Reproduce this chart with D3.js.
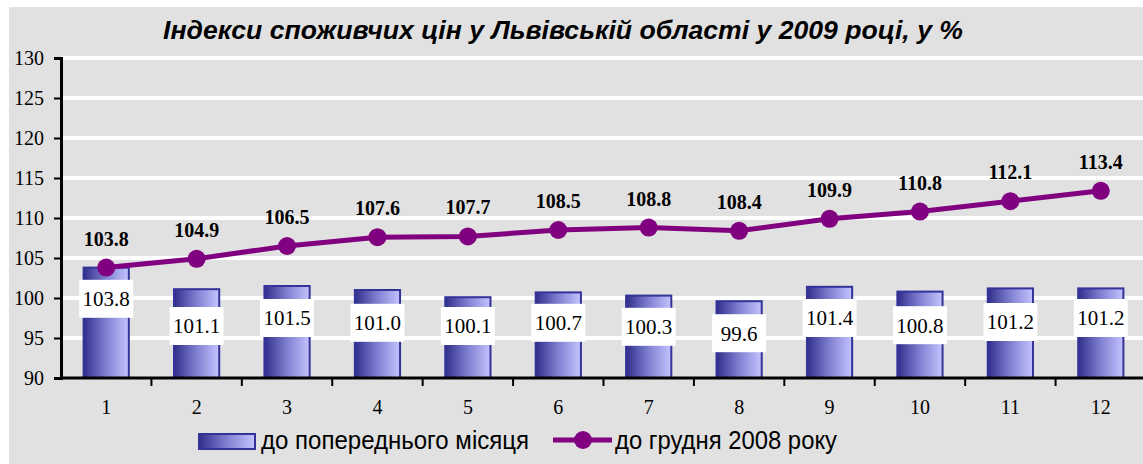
<!DOCTYPE html>
<html lang="uk">
<head>
<meta charset="UTF-8">
<title>Індекси споживчих цін</title>
<script src="https://cdnjs.cloudflare.com/ajax/libs/d3/7.8.5/d3.min.js"></script>
<style>
  body { margin: 0; padding: 0; background: #fff; }
  svg { display: block; }
  .tick text { font-family: "Liberation Serif", "Times New Roman", serif; font-size: 20px; fill: #000; }
</style>
</head>
<body>
<svg id="chart" width="1143" height="464"></svg>
<script>
// chart data
const months = ["1", "2", "3", "4", "5", "6", "7", "8", "9", "10", "11", "12"];
const toPrevMonth = [103.8, 101.1, 101.5, 101.0, 100.1, 100.7, 100.3, 99.6, 101.4, 100.8, 101.2, 101.2];
const toDec2008 = [103.8, 104.9, 106.5, 107.6, 107.7, 108.5, 108.8, 108.4, 109.9, 110.8, 112.1, 113.4];
const yTicks = [90, 95, 100, 105, 110, 115, 120, 125, 130];
const seriesNames = ["до попереднього місяця", "до грудня 2008 року"];
const title = "Індекси споживчих цін у Львівській області у 2009 році, у %";
// where the white value boxes sit on the bars (axis units)
const barLabelAt = [99.9, 96.5, 97.5, 96.9, 96.5, 96.9, 96.4, 95.6, 97.5, 96.6, 97.0, 97.5];

const W = 1143, H = 464;
const mLeft = 61, mRight = 1146, mTop = 58, mBottom = 378;

const svg = d3.select("#chart");

// background
svg.append("rect").attr("x", 9).attr("y", 7).attr("width", W - 9).attr("height", H - 7).attr("fill", "#e1e1e1");

const defs = svg.append("defs");
const grad = defs.append("linearGradient").attr("id", "barGrad").attr("x1", "0%").attr("x2", "100%");
grad.append("stop").attr("offset", "0%").attr("stop-color", "#2f2f8c");
grad.append("stop").attr("offset", "50%").attr("stop-color", "#8080d2");
grad.append("stop").attr("offset", "100%").attr("stop-color", "#c4c4ff");

const x = d3.scaleBand().domain(months).range([mLeft, mRight]).paddingInner(0).paddingOuter(0);
const y = d3.scaleLinear().domain([90, 130]).range([mBottom, mTop]);

// gridlines
svg.append("g").selectAll("line")
  .data(yTicks.filter(d => d > 90))
  .join("line")
  .attr("x1", mLeft).attr("x2", W)
  .attr("y1", d => y(d)).attr("y2", d => y(d))
  .attr("stroke", "#fff").attr("stroke-width", 4);

// bars
const bw = x.bandwidth() * 0.5;
svg.append("g").selectAll("rect")
  .data(toPrevMonth)
  .join("rect")
  .attr("x", (d, i) => x(months[i]) + (x.bandwidth() - bw) / 2)
  .attr("y", d => y(d))
  .attr("width", bw)
  .attr("height", d => y(90) - y(d))
  .attr("fill", "url(#barGrad)")
  .attr("stroke", "#333399").attr("stroke-width", 2);

// axes
const yAxis = svg.append("g").attr("transform", `translate(${mLeft},0)`)
  .call(d3.axisLeft(y).tickValues(yTicks).tickSize(7).tickPadding(10).tickFormat(d3.format("d")));
yAxis.select(".domain").attr("stroke", "#000").attr("stroke-width", 3);
yAxis.selectAll(".tick line").attr("stroke", "#000").attr("stroke-width", 2);
yAxis.selectAll(".tick text").attr("dy", "0.34em");

const xAxis = svg.append("g").attr("transform", `translate(0,${mBottom})`)
  .call(d3.axisBottom(x).tickSize(0).tickPadding(22));
xAxis.select(".domain").remove();
svg.append("line").attr("x1", mLeft - 1).attr("x2", W).attr("y1", mBottom).attr("y2", mBottom)
  .attr("stroke", "#000").attr("stroke-width", 3);
svg.append("g").selectAll("line")
  .data(months)
  .join("line")
  .attr("x1", (d, i) => mLeft + x.step() * (i + 1)).attr("x2", (d, i) => mLeft + x.step() * (i + 1))
  .attr("y1", mBottom).attr("y2", mBottom + 8)
  .attr("stroke", "#000").attr("stroke-width", 2);

// bar value labels
const bl = svg.append("g").selectAll("g")
  .data(toPrevMonth)
  .join("g")
  .attr("transform", (d, i) => `translate(${x(months[i]) + x.bandwidth() / 2},${y(barLabelAt[i])})`);
bl.append("rect").attr("x", -27).attr("y", -19).attr("width", 54).attr("height", 38).attr("fill", "#fff");
bl.append("text")
  .attr("text-anchor", "middle").attr("dy", "0.35em")
  .attr("font-family", "'Liberation Serif', 'Times New Roman', serif").attr("font-size", 21)
  .text(d => d.toFixed(1));

// line series
const cx = (d, i) => x(months[i]) + x.bandwidth() / 2;
svg.append("path")
  .datum(toDec2008)
  .attr("fill", "none").attr("stroke", "#800080").attr("stroke-width", 5)
  .attr("d", d3.line().x(cx).y(d => y(d)));
svg.append("g").selectAll("circle")
  .data(toDec2008)
  .join("circle")
  .attr("cx", cx).attr("cy", d => y(d)).attr("r", 9)
  .attr("fill", "#800080");
svg.append("g").selectAll("text")
  .data(toDec2008)
  .join("text")
  .attr("x", cx).attr("y", d => y(d) - 22)
  .attr("text-anchor", "middle")
  .attr("font-family", "'Liberation Serif', 'Times New Roman', serif").attr("font-size", 20).attr("font-weight", "bold")
  .text(d => d.toFixed(1));

// title
svg.append("text")
  .attr("x", 163).attr("y", 39)
  .attr("font-family", "'Liberation Sans', Arial, sans-serif").attr("font-size", 26)
  .attr("font-weight", "bold").attr("font-style", "italic")
  .attr("textLength", 800).attr("lengthAdjust", "spacingAndGlyphs")
  .text(title);

// legend
const lg = svg.append("g").attr("font-family", "'Liberation Sans', Arial, sans-serif").attr("font-size", 25);
lg.append("rect").attr("x", 199).attr("y", 434).attr("width", 56).attr("height", 15)
  .attr("fill", "url(#barGrad)").attr("stroke", "#333399").attr("stroke-width", 2);
lg.append("text").attr("x", 261).attr("y", 449)
  .attr("textLength", 268).attr("lengthAdjust", "spacingAndGlyphs").text(seriesNames[0]);
lg.append("line").attr("x1", 553).attr("x2", 612).attr("y1", 440).attr("y2", 440)
  .attr("stroke", "#800080").attr("stroke-width", 5);
lg.append("circle").attr("cx", 583).attr("cy", 440).attr("r", 9).attr("fill", "#800080");
lg.append("text").attr("x", 615).attr("y", 449)
  .attr("textLength", 222).attr("lengthAdjust", "spacingAndGlyphs").text(seriesNames[1]);
</script>
</body>
</html>
